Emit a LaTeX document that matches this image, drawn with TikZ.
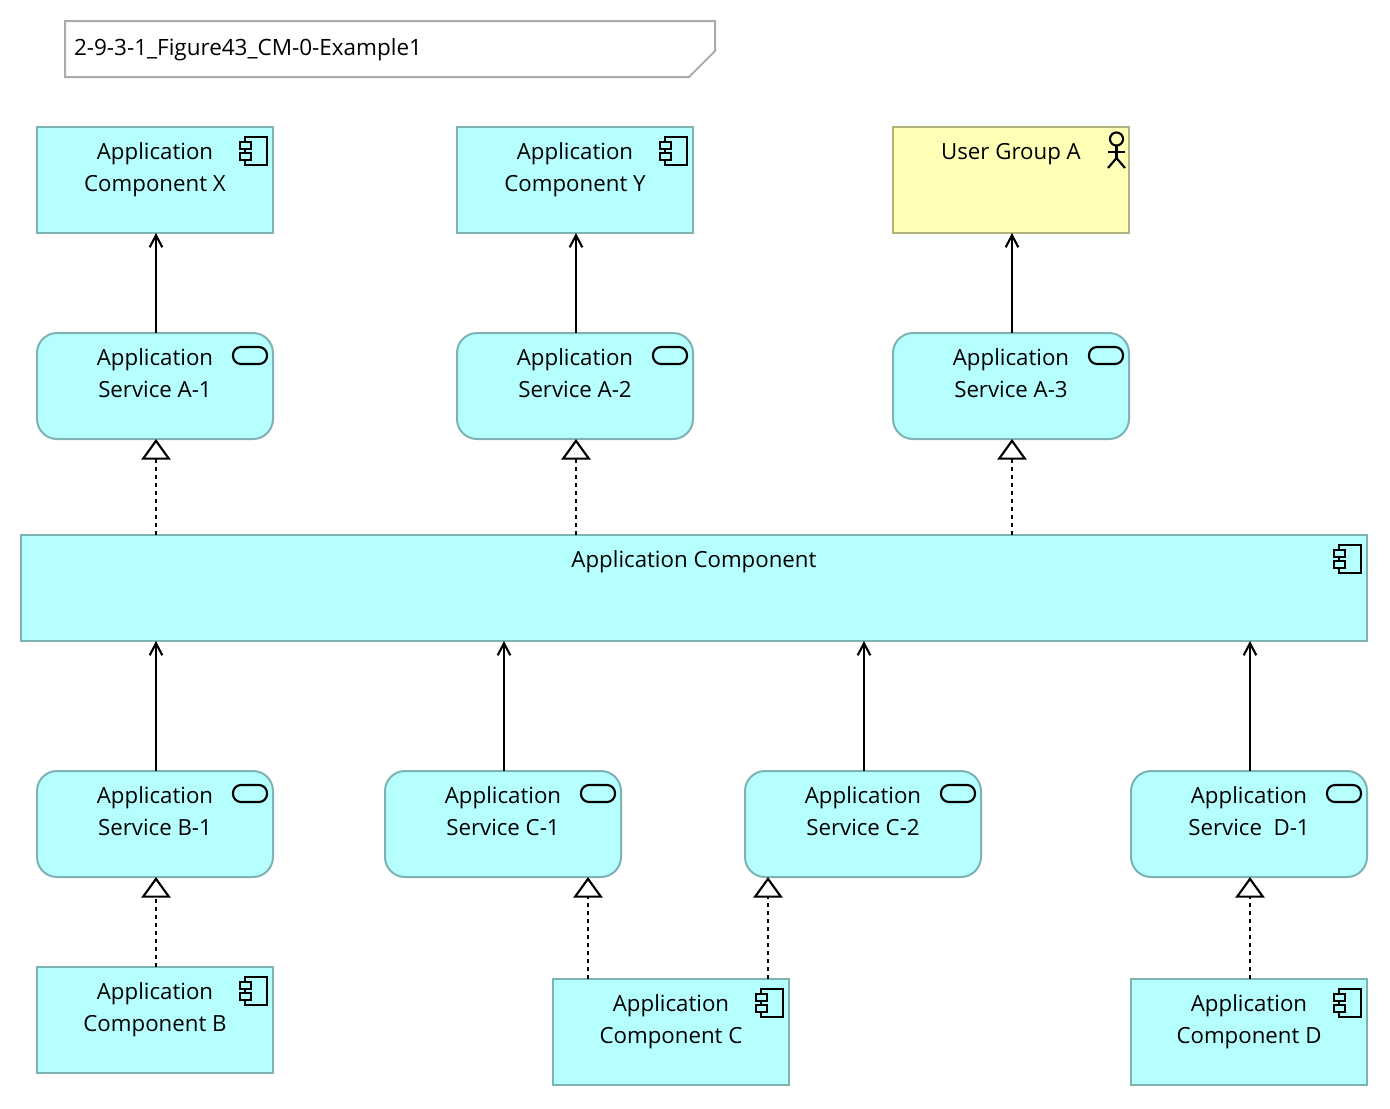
\documentclass[tikz,border=0pt]{standalone}
\usepackage{fontspec}
\setmainfont{Open Sans}
\usetikzlibrary{arrows.meta}
\definecolor{appfill}{HTML}{B5FFFF}
\definecolor{appline}{HTML}{7FB3B3}
\definecolor{bizfill}{HTML}{FFFFB5}
\definecolor{bizline}{HTML}{B3B37F}
\definecolor{noteline}{HTML}{ABABAB}
\newcommand{\lbl}[2][177pt]{\parbox[c][79.5pt][t]{#1}{\centering\fontsize{16.7}{24}\selectfont\rule{0pt}{24pt}#2}}
\newcommand{\compicon}[1]{%
  \draw[icon] ([shift={(-28,10)}]#1.north east) rectangle ([shift={(-6,38)}]#1.north east);
  \draw[icon,fill=appfill] ([shift={(-33,15)}]#1.north east) rectangle ([shift={(-22,22)}]#1.north east);
  \draw[icon,fill=appfill] ([shift={(-33,26)}]#1.north east) rectangle ([shift={(-22,33)}]#1.north east);}
\newcommand{\svcicon}[1]{%
  \draw[icon,rounded corners=6pt] ([shift={(-40,14)}]#1.north east) rectangle ([shift={(-6,31)}]#1.north east);}
\newcommand{\actoricon}[1]{%
  \draw[icon] ([shift={(-12.5,12)}]#1.north east) circle (4.9pt);
  \draw[icon] ([shift={(-12.5,18.5)}]#1.north east) -- ([shift={(-12.5,31)}]#1.north east);
  \draw[icon] ([shift={(-21,25)}]#1.north east) -- ([shift={(-4.5,25)}]#1.north east);
  \draw[icon] ([shift={(-21,41)}]#1.north east) -- ([shift={(-12.5,31)}]#1.north east) -- ([shift={(-4,41)}]#1.north east);}
\tikzset{
  x=0.75pt,y=-0.75pt,
  icon/.style={draw=black,line width=1.6pt,line join=miter},
  blockbase/.style={rectangle,line width=1.5pt,inner sep=0pt,outer sep=0pt,minimum height=79.5pt,minimum width=177pt,text=black},
  compbox/.style={blockbase,draw=appline,fill=appfill},
  svcbox/.style={blockbase,draw=appline,fill=appfill,rounded corners=15pt},
  actorbox/.style={blockbase,draw=bizline,fill=bizfill},
  notetext/.style={inner sep=0pt,outer sep=0pt,anchor=base west,text=black,font=\fontsize{16.85}{24}\selectfont},
  notebox/.style={draw=noteline,line width=1.5pt},
  flow/.style={draw=black,line width=1.6pt,-{Straight Barb[length=9pt,width=9.5pt,line width=1.6pt]}},
  realize/.style={draw=black,line width=1.6pt,dash pattern=on 3pt off 3pt,-{Triangle[open,fill=white,length=15.5pt,width=22pt,line width=1.6pt,sep=0pt]}},
}
\begin{document}
\begin{tikzpicture}
\useasboundingbox (0,0) rectangle (1390,1108);
\draw[notebox] (65,21) -- (715,21) -- (715,51) -- (689,77) -- (65,77) -- cycle;
\node[notetext] (note) at (74,55) {2-9-3-1\_Figure43\_CM-0-Example1};

\node[compbox] (compX) at (155,180) {\lbl{Application\\Component X}};
\node[compbox] (compY) at (575,180) {\lbl{Application\\Component Y}};
\node[actorbox] (user) at (1011,180) {\lbl{User Group A}};
\node[svcbox] (svcA1) at (155,386) {\lbl{Application\\Service A-1}};
\node[svcbox] (svcA2) at (575,386) {\lbl{Application\\Service A-2}};
\node[svcbox] (svcA3) at (1011,386) {\lbl{Application\\Service A-3}};
\node[compbox,minimum width=1009.5pt] (app) at (694,588) {\lbl[1009.5pt]{Application Component}};
\node[svcbox] (svcB1) at (155,824) {\lbl{Application\\Service B-1}};
\node[svcbox] (svcC1) at (503,824) {\lbl{Application\\Service C-1}};
\node[svcbox] (svcC2) at (863,824) {\lbl{Application\\Service C-2}};
\node[svcbox] (svcD1) at (1249,824) {\lbl{Application\\Service\ \ D-1}};
\node[compbox] (compB) at (155,1020) {\lbl{Application\\Component B}};
\node[compbox] (compC) at (671,1032) {\lbl{Application\\Component C}};
\node[compbox] (compD) at (1249,1032) {\lbl{Application\\Component D}};

\compicon{compX}\compicon{compY}\compicon{app}\compicon{compB}\compicon{compC}\compicon{compD}
\svcicon{svcA1}\svcicon{svcA2}\svcicon{svcA3}\svcicon{svcB1}\svcicon{svcC1}\svcicon{svcC2}\svcicon{svcD1}
\actoricon{user}

\coordinate (xa) at (156,0);
\coordinate (xb) at (576,0);
\coordinate (xc) at (1012,0);
\coordinate (xd) at (504,0);
\coordinate (xe) at (864,0);
\coordinate (xf) at (1250,0);
\coordinate (xg) at (588,0);
\coordinate (xh) at (768,0);

\draw[flow] (svcA1.north -| xa) -- (compX.south -| xa);
\draw[flow] (svcA2.north -| xb) -- (compY.south -| xb);
\draw[flow] (svcA3.north -| xc) -- (user.south -| xc);
\draw[realize] (app.north -| xa) -- (svcA1.south -| xa);
\draw[realize] (app.north -| xb) -- (svcA2.south -| xb);
\draw[realize] (app.north -| xc) -- (svcA3.south -| xc);
\draw[flow] (svcB1.north -| xa) -- (app.south -| xa);
\draw[flow] (svcC1.north -| xd) -- (app.south -| xd);
\draw[flow] (svcC2.north -| xe) -- (app.south -| xe);
\draw[flow] (svcD1.north -| xf) -- (app.south -| xf);
\draw[realize] (compB.north -| xa) -- (svcB1.south -| xa);
\draw[realize] (compC.north -| xg) -- (svcC1.south -| xg);
\draw[realize] (compC.north -| xh) -- (svcC2.south -| xh);
\draw[realize] (compD.north -| xf) -- (svcD1.south -| xf);
\end{tikzpicture}
\end{document}
